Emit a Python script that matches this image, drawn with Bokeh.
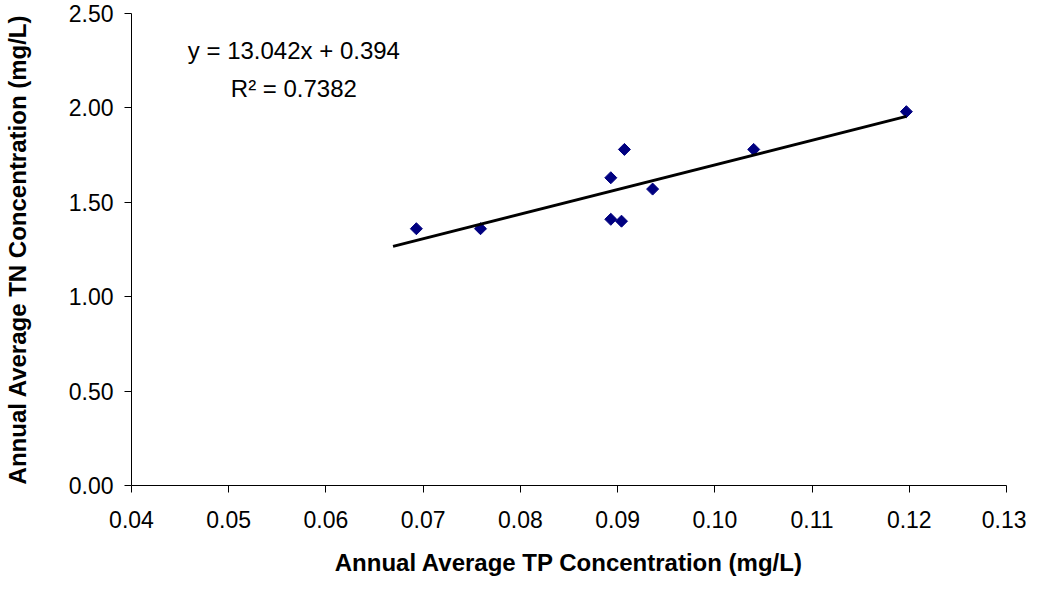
from bokeh.plotting import figure
from bokeh.models import Range1d, FixedTicker, Label, NumeralTickFormatter, ColumnDataSource
from bokeh.embed import file_html
from bokeh.resources import INLINE
import numpy as np

# ---- data ----
tp = [0.0693, 0.0759, 0.0893, 0.0893, 0.0904, 0.0907, 0.0936, 0.1040, 0.1197]
tn = [1.36, 1.36, 1.63, 1.41, 1.40, 1.78, 1.57, 1.78, 1.98]
x_ticks = [0.04, 0.05, 0.06, 0.07, 0.08, 0.09, 0.10, 0.11, 0.12, 0.13]
y_ticks = [0.0, 0.5, 1.0, 1.5, 2.0, 2.5]
slope = 13.042
intercept = 0.394
r_squared = 0.7382
trend_x = [0.0669, 0.1197]
x_title = "Annual Average TP Concentration (mg/L)"
y_title = "Annual Average TN Concentration (mg/L)"

FONT = "Liberation Sans"

p = figure(width=1026, height=582, output_backend="svg", toolbar_location=None,
           x_range=Range1d(0.04, 0.13), y_range=Range1d(0, 2.5),
           min_border_left=125, min_border_right=20, min_border_top=13,
           min_border_bottom=97)
p.outline_line_color = None
p.grid.visible = False
p.background_fill_color = "white"
p.border_fill_color = "white"

p.xaxis.ticker = FixedTicker(ticks=x_ticks)
p.yaxis.ticker = FixedTicker(ticks=y_ticks)
p.xaxis.formatter = NumeralTickFormatter(format="0.00")
p.yaxis.formatter = NumeralTickFormatter(format="0.00")
p.xaxis.axis_label = x_title
p.yaxis.axis_label = y_title

for ax in (p.xaxis[0], p.yaxis[0]):
    ax.axis_line_color = "black"
    ax.axis_line_width = 1
    ax.major_tick_line_color = "black"
    ax.major_tick_out = 7
    ax.major_tick_in = 0
    ax.minor_tick_line_color = None
    ax.major_label_text_font = FONT
    ax.major_label_text_font_size = "23px"
    ax.major_label_text_color = "black"
    ax.axis_label_text_font = FONT
    ax.axis_label_text_font_style = "bold"
    ax.axis_label_text_font_size = "24px"
    ax.axis_label_text_color = "black"

p.xaxis.major_label_standoff = 18
p.xaxis.axis_label_standoff = 18
p.yaxis.major_label_standoff = 11
p.yaxis.axis_label_standoff = 35

src = ColumnDataSource(dict(x=tp, y=tn))
p.scatter("x", "y", source=src, marker="square", size=8.5, angle=np.pi / 4,
          fill_color="#000080", line_color="#000080")

trend_y = [slope * x + intercept for x in trend_x]
p.line(trend_x, trend_y, line_color="black", line_width=3)

p.add_layout(Label(x=0.0567, y=2.305, text=f"y = {slope}x + {intercept}",
                   text_align="center", text_baseline="alphabetic",
                   text_font=FONT, text_font_size="24px", text_color="black"))
p.add_layout(Label(x=0.0567, y=2.105, text=f"R\u00b2 = {r_squared}",
                   text_align="center", text_baseline="alphabetic",
                   text_font=FONT, text_font_size="24px", text_color="black"))

open("out.html", "w").write(file_html(p, INLINE))
